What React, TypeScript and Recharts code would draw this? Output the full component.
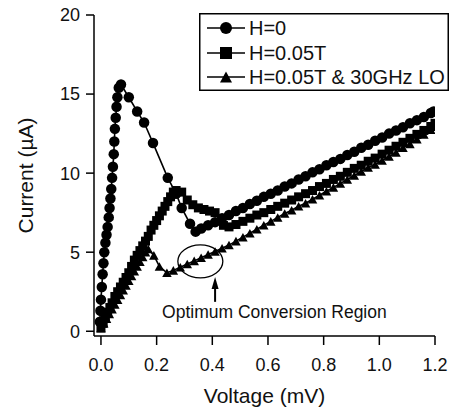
import { LineChart, Line, XAxis, YAxis, ReferenceDot, ReferenceLine, Legend } from "recharts";

const FONT = '"Liberation Sans", Arial, Helvetica, sans-serif';

// [voltage mV, current µA]
const h0Points: [number, number][] = [
  [-0.004, 0.6], [-0.002, 1.3], [0.0, 2.0], [0.003, 2.8], [0.006, 3.6], [0.009, 4.3],
  [0.012, 5.0], [0.016, 5.6], [0.02, 6.1], [0.024, 6.6], [0.028, 7.2], [0.031, 7.8],
  [0.034, 8.4], [0.037, 9.0], [0.04, 9.7], [0.043, 10.4], [0.046, 11.2], [0.048, 12.0],
  [0.05, 12.8], [0.053, 13.5], [0.056, 14.2], [0.059, 14.8], [0.064, 15.4], [0.072, 15.6],
  [0.1, 14.8], [0.13, 13.9], [0.155, 13.2], [0.187, 11.9], [0.24, 9.7], [0.27, 8.7],
  [0.29, 7.8], [0.32, 6.8], [0.34, 6.3], [0.36, 6.5], [0.385, 6.7], [0.41, 6.9],
  [0.435, 7.15], [0.46, 7.35], [0.485, 7.6], [0.51, 7.8], [0.535, 8.05], [0.56, 8.25],
  [0.585, 8.5], [0.61, 8.7], [0.635, 8.9], [0.66, 9.15], [0.685, 9.35], [0.71, 9.6],
  [0.735, 9.8], [0.76, 10.05], [0.785, 10.25], [0.81, 10.5], [0.835, 10.7], [0.86, 10.9],
  [0.885, 11.15], [0.91, 11.35], [0.935, 11.6], [0.96, 11.8], [0.985, 12.05], [1.01, 12.25],
  [1.035, 12.5], [1.06, 12.7], [1.085, 12.9], [1.11, 13.15], [1.135, 13.35], [1.16, 13.55],
  [1.185, 13.8], [1.195, 13.9],
];

const h005Points: [number, number][] = [
  [0.0, 0.2], [0.008, 0.5], [0.016, 0.9], [0.024, 1.2], [0.032, 1.5], [0.04, 1.8],
  [0.05, 2.2], [0.06, 2.5], [0.07, 2.8], [0.08, 3.1], [0.09, 3.4], [0.1, 3.7],
  [0.11, 4.1], [0.12, 4.5], [0.13, 4.8], [0.14, 5.1], [0.15, 5.4], [0.16, 5.7],
  [0.17, 6.0], [0.18, 6.4], [0.19, 6.7], [0.2, 7.0], [0.21, 7.3], [0.22, 7.6],
  [0.23, 7.9], [0.24, 8.2], [0.25, 8.5], [0.26, 8.8], [0.27, 8.9], [0.29, 8.8],
  [0.31, 8.3], [0.33, 8.0], [0.35, 7.8], [0.37, 7.7], [0.39, 7.6], [0.41, 7.5],
  [0.44, 6.7], [0.46, 6.6], [0.485, 6.75], [0.51, 6.95], [0.535, 7.15], [0.56, 7.35],
  [0.585, 7.5], [0.61, 7.7], [0.635, 7.9], [0.66, 8.1], [0.685, 8.3], [0.71, 8.5],
  [0.735, 8.7], [0.76, 8.9], [0.785, 9.15], [0.81, 9.35], [0.835, 9.6], [0.86, 9.8],
  [0.885, 10.05], [0.91, 10.3], [0.935, 10.5], [0.96, 10.75], [0.985, 10.95], [1.01, 11.2],
  [1.035, 11.45], [1.06, 11.7], [1.085, 11.95], [1.11, 12.2], [1.135, 12.45], [1.16, 12.7],
  [1.185, 12.95], [1.2, 13.15],
];

const h005LoPoints: [number, number][] = [
  [0.0, 0.2], [0.01, 0.5], [0.02, 0.8], [0.03, 1.1], [0.04, 1.4], [0.05, 1.7],
  [0.06, 2.0], [0.07, 2.3], [0.08, 2.6], [0.09, 2.9], [0.1, 3.2], [0.11, 3.5],
  [0.12, 3.8], [0.13, 4.1], [0.14, 4.4], [0.15, 4.7], [0.16, 5.0], [0.17, 5.2],
  [0.19, 4.8], [0.21, 4.1], [0.237, 3.7], [0.26, 3.85], [0.285, 4.05], [0.31, 4.25],
  [0.335, 4.45], [0.36, 4.65], [0.385, 4.85], [0.41, 5.05], [0.435, 5.25], [0.46, 5.45],
  [0.485, 5.7], [0.51, 5.95], [0.535, 6.2], [0.56, 6.45], [0.585, 6.7], [0.61, 6.95],
  [0.635, 7.2], [0.66, 7.45], [0.685, 7.65], [0.71, 7.9], [0.735, 8.1], [0.76, 8.35],
  [0.785, 8.6], [0.81, 8.85], [0.835, 9.1], [0.86, 9.35], [0.885, 9.6], [0.91, 9.85],
  [0.935, 10.1], [0.96, 10.35], [0.985, 10.55], [1.01, 10.8], [1.035, 11.05], [1.06, 11.3],
  [1.085, 11.6], [1.11, 11.85], [1.135, 12.15], [1.16, 12.45], [1.185, 12.75], [1.2, 12.95],
];

const seriesNames = ["H=0", "H=0.05T", "H=0.05T & 30GHz LO"];
const xTicks = [0, 0.2, 0.4, 0.6, 0.8, 1.0, 1.2];
const yTicks = [0, 5, 10, 15, 20];

const toRows = (pts: [number, number][]) => pts.map(([v, i]) => ({ v, i }));

type Shape = "circle" | "square" | "triangle";

function marker(shape: Shape, cx: number, cy: number, s: number, key?: string) {
  if (shape === "circle") return <circle key={key} cx={cx} cy={cy} r={s / 2} fill="#000" />;
  if (shape === "square")
    return <rect key={key} x={cx - s / 2} y={cy - s / 2} width={s} height={s} fill="#000" />;
  const h = s * 0.9;
  return (
    <path
      key={key}
      d={`M${cx},${cy - h / 2} L${cx + s / 2},${cy + h / 2} L${cx - s / 2},${cy + h / 2} Z`}
      fill="#000"
    />
  );
}

const dotFor = (shape: Shape, size: number) => (p: any) =>
  marker(shape, p.cx, p.cy, size, `${shape}-${p.index}`);

const shapes: Shape[] = ["circle", "square", "triangle"];

function LegendBox() {
  const rows = [15, 40, 64];
  return (
    <svg width={250} height={78}>
      <rect x={0.75} y={0.75} width={248.5} height={76.5} fill="#fff" stroke="#000" strokeWidth={1.5} />
      {seriesNames.map((name, k) => (
        <g key={name}>
          <line x1={8} x2={46} y1={rows[k]} y2={rows[k]} stroke="#000" strokeWidth={1.5} />
          {marker(shapes[k], 27, rows[k], 12)}
          <text
            x={50}
            y={rows[k]}
            dominantBaseline="central"
            fontSize={20}
            fontFamily={FONT}
            fill="#111"
          >
            {name}
          </text>
        </g>
      ))}
    </svg>
  );
}

export default function App() {
  const axisTick = { fill: "#111", fontSize: 18, fontFamily: FONT };
  return (
    <div style={{ position: "absolute", left: 0, top: 0, background: "#fff" }}>
      <LineChart width={451} height={413} margin={{ top: 15, right: 16, bottom: 0, left: 0 }}>
        <XAxis
          type="number"
          dataKey="v"
          domain={[-0.025, 1.2]}
          allowDataOverflow
          ticks={xTicks}
          tickFormatter={(v: number) => v.toFixed(1)}
          height={77}
          tickSize={9}
          tickMargin={13}
          stroke="#000"
          strokeWidth={1.5}
          tick={axisTick}
          label={{
            value: "Voltage (mV)",
            position: "insideBottom",
            offset: 10,
            style: { fill: "#111", fontSize: 21, fontFamily: FONT },
          }}
        />
        <YAxis
          type="number"
          dataKey="i"
          domain={[-0.3, 20]}
          allowDataOverflow
          ticks={yTicks}
          width={94}
          tickSize={8}
          tickMargin={6}
          stroke="#000"
          strokeWidth={1.5}
          tick={axisTick}
          label={{
            value: "Current (µA)",
            angle: -90,
            position: "insideLeft",
            offset: 26,
            style: { fill: "#111", fontSize: 21, fontFamily: FONT, textAnchor: "middle" },
          }}
        />
        <Line
          data={toRows(h0Points)}
          dataKey="i"
          name={seriesNames[0]}
          stroke="#000"
          strokeWidth={1.6}
          dot={dotFor("circle", 10.5)}
          isAnimationActive={false}
        />
        <Line
          data={toRows(h005Points)}
          dataKey="i"
          name={seriesNames[1]}
          stroke="#000"
          strokeWidth={1.6}
          dot={dotFor("square", 9)}
          isAnimationActive={false}
        />
        <Line
          data={toRows(h005LoPoints)}
          dataKey="i"
          name={seriesNames[2]}
          stroke="#000"
          strokeWidth={1.6}
          dot={dotFor("triangle", 9.5)}
          isAnimationActive={false}
        />
        <ReferenceDot
          x={0.357}
          y={4.42}
          shape={(p: any) => (
            <ellipse cx={p.cx} cy={p.cy} rx={22.5} ry={16.5} fill="none" stroke="#000" strokeWidth={1.3} />
          )}
        />
        <ReferenceLine
          segment={[
            { x: 0.41, y: 1.86 },
            { x: 0.41, y: 3.0 },
          ]}
          stroke="#000"
          strokeWidth={2}
        />
        <ReferenceDot
          x={0.41}
          y={3.43}
          shape={(p: any) => (
            <path d={`M${p.cx},${p.cy} L${p.cx + 3.5},${p.cy + 12} L${p.cx - 3.5},${p.cy + 12} Z`} fill="#000" />
          )}
        />
        <ReferenceDot
          x={0.623}
          y={1.19}
          shape={(p: any) => (
            <text
              x={p.cx}
              y={p.cy}
              textAnchor="middle"
              dominantBaseline="central"
              fontSize={17.5}
              fontFamily={FONT}
              fill="#111"
            >
              Optimum Conversion Region
            </text>
          )}
        />
        <Legend
          layout="vertical"
          align="center"
          verticalAlign="middle"
          wrapperStyle={{ left: 199, top: 13, width: 250, height: 78 }}
          content={() => <LegendBox />}
        />
      </LineChart>
    </div>
  );
}
